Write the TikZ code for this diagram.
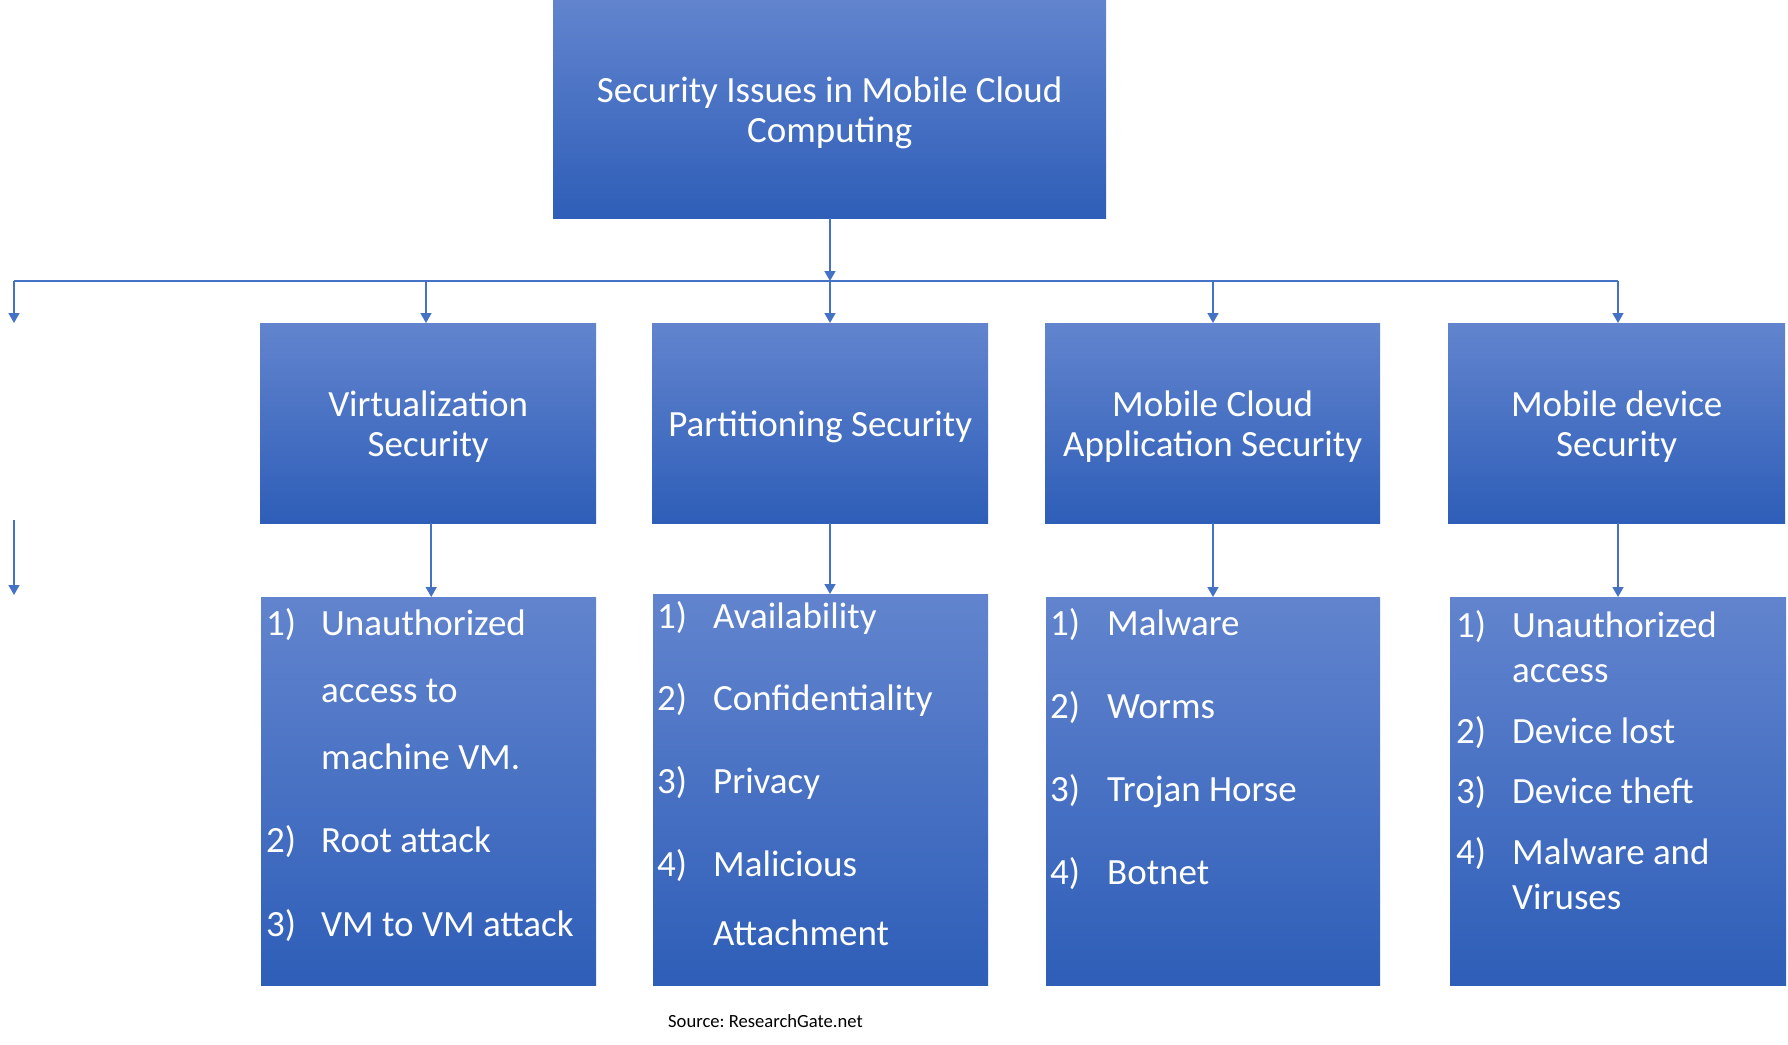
\documentclass[tikz,border=0pt]{standalone}
\usepackage{fontspec}
\setmainfont{Carlito}
\usetikzlibrary{positioning}
\usetikzlibrary{arrows.meta}
\definecolor{boxtop}{RGB}{98,132,206}
\definecolor{boxbot}{RGB}{46,94,184}
\definecolor{linkblue}{RGB}{68,114,196}
\frenchspacing
\tikzset{
    mybox/.style = {rectangle, anchor=north west, inner sep=0pt, draw=none, top color=boxtop, bottom color=boxbot, align=center, text=white, font=\fontsize{37}{40}\selectfont},
    myitem/.style = {anchor=base west, inner sep=0pt, text=white, font=\fontsize{37}{40}\selectfont},
    mysource/.style = {anchor=west, inner sep=0pt, text=black, font=\fontsize{18.6}{22}\selectfont},
    edgel/.style = {-{Triangle[width=11pt,length=10pt]}, line width=1.6pt, linkblue},
    edgep/.style = {-, line width=1.6pt, linkblue}
}
\begin{document}
\begin{tikzpicture}[x=1pt,y=-1pt]
%
\path[use as bounding box] (0,0) rectangle (1788,1044);
%
\node[mybox, minimum width=553pt, minimum height=218pt] at (553,0) (root) {\rule{0pt}{32pt}Security Issues in Mobile Cloud\\Computing};
%
\node[mybox, minimum width=336pt, minimum height=200pt] at (260,323) (virt) {\rule{0pt}{32pt}Virtualization\\Security};
\node[mybox, minimum width=336pt, minimum height=200pt] at (652,323) (part) {\rule{0pt}{32pt}Partitioning Security};
\node[mybox, minimum width=335pt, minimum height=200pt] at (1045,323) (mcas) {\rule{0pt}{32pt}Mobile Cloud\\Application Security};
\node[mybox, minimum width=337pt, minimum height=200pt] at (1448,323) (mdev) {\rule{0pt}{32pt}Mobile device\\Security};
%
\node[mybox, minimum width=335pt, minimum height=388pt] at (261,597) (vlist) {};
\node[mybox, minimum width=335pt, minimum height=391pt] at (653,594) (plist) {};
\node[mybox, minimum width=334pt, minimum height=388pt] at (1046,597) (mlist) {};
\node[mybox, minimum width=336pt, minimum height=388pt] at (1450,597) (dlist) {};
%
\node[myitem] at (266,635) (v1n) {1)};
\node[myitem] at (321,635) (v1a) {Unauthorized};
\node[myitem] at (321,702) (v1b) {access to};
\node[myitem] at (321,769) (v1c) {machine VM.};
\node[myitem] at (266,852) (v2n) {2)};
\node[myitem] at (321,852) (v2) {Root attack};
\node[myitem] at (266,936) (v3n) {3)};
\node[myitem] at (321,936) (v3) {VM to VM attack};
%
\node[myitem] at (657,628) (p1n) {1)};
\node[myitem] at (713,628) (p1) {Availability};
\node[myitem] at (657,710) (p2n) {2)};
\node[myitem] at (713,710) (p2) {Confidentiality};
\node[myitem] at (657,793) (p3n) {3)};
\node[myitem] at (713,793) (p3) {Privacy};
\node[myitem] at (657,876) (p4n) {4)};
\node[myitem] at (713,876) (p4a) {Malicious};
\node[myitem] at (713,945) (p4b) {Attachment};
%
\node[myitem] at (1050,635) (m1n) {1)};
\node[myitem] at (1107,635) (m1) {Malware};
\node[myitem] at (1050,718) (m2n) {2)};
\node[myitem] at (1107,718) (m2) {Worms};
\node[myitem] at (1050,801) (m3n) {3)};
\node[myitem] at (1107,801) (m3) {Trojan Horse};
\node[myitem] at (1050,884) (m4n) {4)};
\node[myitem] at (1107,884) (m4) {Botnet};
%
\node[myitem] at (1456,637) (d1n) {1)};
\node[myitem] at (1512,637) (d1a) {Unauthorized};
\node[myitem] at (1512,682) (d1b) {access};
\node[myitem] at (1456,743) (d2n) {2)};
\node[myitem] at (1512,743) (d2) {Device lost};
\node[myitem] at (1456,803) (d3n) {3)};
\node[myitem] at (1512,803) (d3) {Device theft};
\node[myitem] at (1456,864) (d4n) {4)};
\node[myitem] at (1512,864) (d4a) {Malware and};
\node[myitem] at (1512,909) (d4b) {Viruses};
%
\node[mysource] at (668,1021) (src) {Source: ResearchGate.net};
%
\coordinate (hub) at (830,281);
\coordinate (b0) at (14,281);
\coordinate (b1) at (426,281);
\coordinate (b3) at (1213,281);
\coordinate (b4) at (1618,281);
\coordinate (e0) at (14,323);
\coordinate (l0) at (14,520);
\coordinate (l1) at (14,595);
%
\draw[edgel] (root.south -| hub) -- (hub);
\draw[edgep] (b0) -- (b4);
\draw[edgel] (b0) -- (e0);
\draw[edgel] (b1) -- (b1 |- virt.north);
\draw[edgel] (hub) -- (hub |- part.north);
\draw[edgel] (b3) -- (b3 |- mcas.north);
\draw[edgel] (b4) -- (b4 |- mdev.north);
\draw[edgel] (l0) -- (l1);
%
\draw[edgel] ([xshift=3pt]virt.south) -- ([xshift=3pt]virt.south |- vlist.north);
\draw[edgel] (hub |- part.south) -- (hub |- plist.north);
\draw[edgel] (b3 |- mcas.south) -- (b3 |- mlist.north);
\draw[edgel] (b4 |- mdev.south) -- (b4 |- dlist.north);

\end{tikzpicture}
\end{document}
